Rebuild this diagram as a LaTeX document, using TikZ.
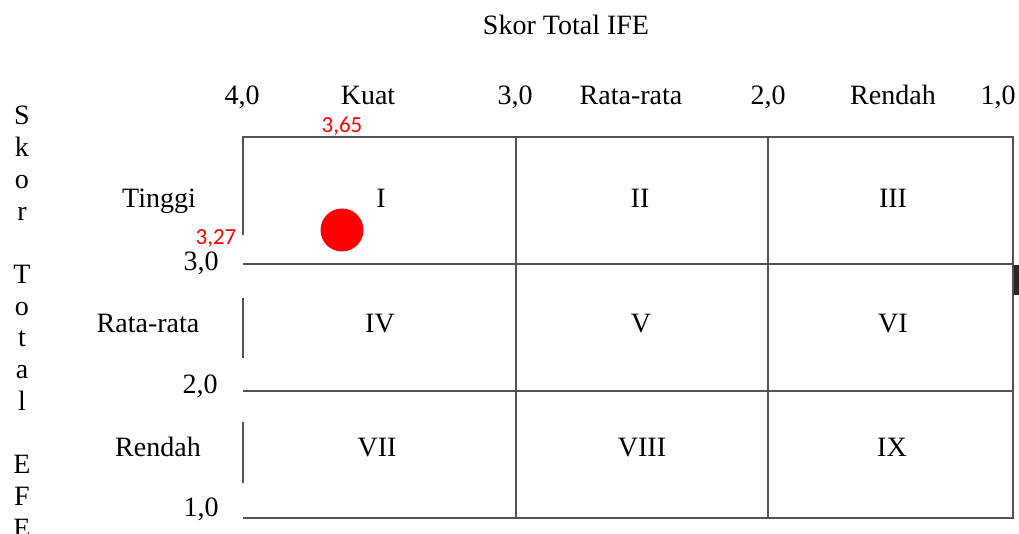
\documentclass[tikz,border=0pt]{standalone}
\usepackage{fontspec}
\setmainfont{Liberation Serif}
\newfontfamily\valfont{Carlito}
\begin{document}
\begin{tikzpicture}[x=0.5pt,y=-0.5pt,
  grid/.style={draw=black!68, line width=1.1pt},
  lbl/.style={anchor=base, inner sep=0pt, font=\fontsize{14}{16}\selectfont},
  val/.style={anchor=base, inner sep=0pt, text=red, font=\valfont\fontsize{11.5}{13}\selectfont},
  dot/.style={circle, fill=red, draw=none, minimum size=21.5pt, inner sep=0pt},
]
\useasboundingbox (0,0) rectangle (1019,534);

% grid corners
\coordinate (tl) at (243,137);
\coordinate (tr) at (1013,137);
\coordinate (bl) at (243,518);
\coordinate (br) at (1013,518);

% outer frame and rules
\draw[grid] (243,235) -- (tl) -- (tr) -- (br) -- (bl);
\draw[grid] (243,264) -- (1013,264);
\draw[grid] (243,391) -- (1013,391);
\draw[grid] (516,137) -- (516,518);
\draw[grid] (768,137) -- (768,518);
% broken left edge
\draw[grid] (243,298) -- (243,358);
\draw[grid] (243,422) -- (243,483);
% small dark tab on the right edge
\fill[black!85] (1014,265) rectangle (1019,295);

% axis title
\node[lbl] (title) at (566,35) {Skor Total IFE};

% IFE scale and categories
\node[lbl] (x4) at (242,105) {4,0};
\node[lbl] (kuat) at (368,105) {Kuat};
\node[lbl] (x3) at (515,105) {3,0};
\node[lbl] (xrata) at (631,105) {Rata-rata};
\node[lbl] (x2) at (768,105) {2,0};
\node[lbl] (xrendah) at (893,105) {Rendah};
\node[lbl] (x1) at (998,105) {1,0};

% EFE scale and categories
\node[lbl] (tinggi) at (159,208) {Tinggi};
\node[lbl] (y3) at (201,271) {3,0};
\node[lbl] (yrata) at (148,333) {Rata-rata};
\node[lbl] (y2) at (200,394) {2,0};
\node[lbl] (yrendah) at (158,457) {Rendah};
\node[lbl] (y1) at (201,517) {1,0};

% vertical axis title, one letter per line
\foreach \ch/\k in {S/0,k/1,o/2,r/3,T/5,o/6,t/7,a/8,l/9,E/11,F/12,E/13}
  \node[lbl] (v\k) at (22,{125+31.7*\k}) {\ch};

% cell numerals
\node[lbl] (c1) at (381,208) {I};
\node[lbl] (c2) at (640,208) {II};
\node[lbl] (c3) at (893,208) {III};
\node[lbl] (c4) at (380,333) {IV};
\node[lbl] (c5) at (641,333) {V};
\node[lbl] (c6) at (893,333) {VI};
\node[lbl] (c7) at (377,457) {VII};
\node[lbl] (c8) at (642,457) {VIII};
\node[lbl] (c9) at (892,457) {IX};

% position of the weighted scores
\node[val] (sx) at (342,133) {3,65};
\node[val] (sy) at (216,245) {3,27};
\node[dot] (pos) at (342,230) {};
\end{tikzpicture}
\end{document}
